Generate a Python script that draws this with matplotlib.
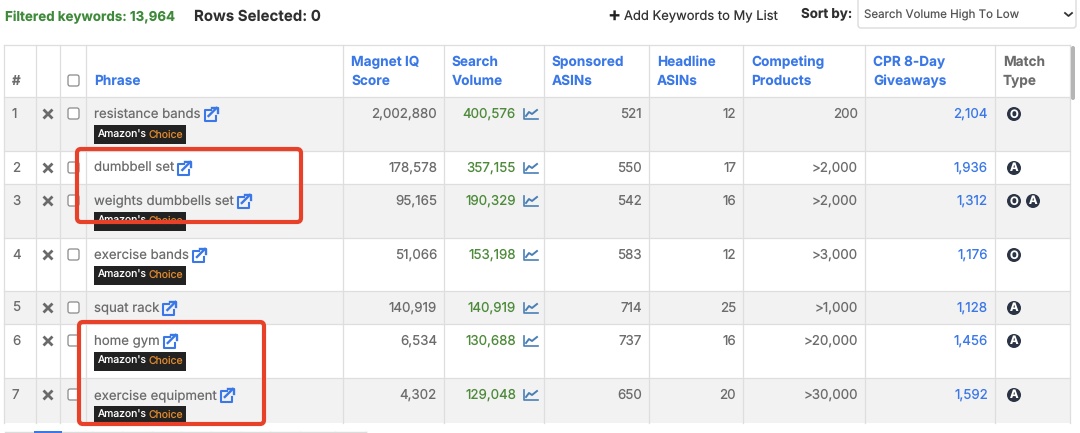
import matplotlib
matplotlib.use("Agg")
import matplotlib.pyplot as plt
from matplotlib.patches import Rectangle, FancyBboxPatch, Circle

plt.rcParams['font.family'] = ['Inter', 'DejaVu Sans']
plt.rcParams['text.hinting'] = 'no_hinting'
plt.rcParams['text.hinting_factor'] = 1

# table values
phrases = ["resistance bands", "dumbbell set", "weights dumbbells set", "exercise bands",
           "squat rack", "home gym", "exercise equipment"]
choice = [True, False, True, True, False, True, True]
magnet_iq = ["2,002,880", "178,578", "95,165", "51,066", "140,919", "6,534", "4,302"]
search_volume = ["400,576", "357,155", "190,329", "153,198", "140,919", "130,688", "129,048"]
sponsored = ["521", "550", "542", "583", "714", "737", "650"]
headline = ["12", "17", "16", "12", "25", "16", "20"]
competing = ["200", ">2,000", ">2,000", ">3,000", ">1,000", ">20,000", ">30,000"]
giveaways = ["2,104", "1,936", "1,312", "1,176", "1,128", "1,456", "1,592"]
match_type = [["O"], ["A"], ["O", "A"], ["O"], ["A"], ["A"], ["A"]]
headers = [("Magnet IQ", "Score"), ("Search", "Volume"), ("Sponsored", "ASINs"), ("Headline", "ASINs"),
           ("Competing", "Products"), ("CPR 8-Day", "Giveaways")]

# layout in pixels
col_x = [4, 36, 60, 86, 343, 444, 544, 649, 743, 865, 995, 1070]
row_y = [97, 151, 184, 238, 291, 324, 378, 423]
BLUE = "#3b78e7"
GREY = "#6c6c6c"
LINE = "#dedede"
GREEN = "#4d8a3a"
DARK = "#2b3445"

fig = plt.figure(figsize=(10.8, 4.33), dpi=100)
ax = fig.add_axes([0, 0, 1, 1])
ax.set_xlim(0, 1080)
ax.set_ylim(433, 0)
ax.axis("off")


def ext_icon(x, y):
    # little "open in new tab" icon
    ax.plot([x + 6, x, x, x + 11, x + 11], [y - 4, y - 4, y + 7, y + 7, y + 2], color=BLUE, lw=1.5, zorder=3)
    ax.plot([x + 4, x + 12], [y + 2, y - 6], color=BLUE, lw=1.7, zorder=3)
    ax.plot([x + 7, x + 13, x + 13], [y - 6, y - 6, y - 1], color=BLUE, lw=1.7, zorder=3)


def trend_icon(x, y):
    ax.plot([x, x, x + 14], [y - 5, y + 5, y + 5], color="#4a7fb5", lw=1.2, zorder=3)
    ax.plot([x + 2, x + 5, x + 8, x + 13], [y + 2, y - 2, y, y - 4], color="#4a7fb5", lw=1.4, zorder=3)


def checkbox(x, y):
    ax.add_patch(FancyBboxPatch((x + 1.5, y + 1.5), 8, 8, boxstyle="round,pad=1.5,rounding_size=2",
                                fc="white", ec="#8a8a8a", lw=0.9, zorder=3))


def badge(x, y, letter):
    ax.add_patch(Circle((x, y), 7, fc=DARK, ec="none", zorder=3))
    ax.text(x, y + 0.3, letter, color="white", fontsize=8.2, fontweight="bold", ha="center", va="center", zorder=4)


def xmark(x, y):
    ax.plot([x - 3.5, x + 3.5], [y - 3.5, y + 3.5], color="#6a6a6a", lw=2, zorder=3)
    ax.plot([x - 3.5, x + 3.5], [y + 3.5, y - 3.5], color="#6a6a6a", lw=2, zorder=3)


# top bar
ax.text(5, 17, "Filtered keywords: 13,964", color="#3f8a3a", fontsize=9.6, fontweight="bold", va="center")
ax.text(194, 17, "Rows Selected: 0", color="#2f2f2f", fontsize=10.8, fontweight="bold", va="center")
ax.text(607, 15.5, "+", color="#222222", fontsize=14, fontweight="bold", va="center")
ax.text(624, 16, "Add Keywords to My List", color="#333333", fontsize=9.35, va="center")
ax.text(801, 14, "Sort by:", color="#2f2f2f", fontsize=9.6, fontweight="bold", va="center")
ax.add_patch(FancyBboxPatch((858, -3), 218, 31, boxstyle="round,pad=0,rounding_size=3", fc="white", ec="#dcdcdc", lw=1))
ax.text(864, 15, "Search Volume High To Low", color="#555555", fontsize=8.3, va="center")
ax.plot([1065, 1068.5, 1072], [13, 16, 13], color="#333333", lw=1.3)

# striped rows
for i in range(7):
    if i % 2 == 0:
        ax.add_patch(Rectangle((col_x[0], row_y[i]), col_x[-1] - col_x[0], row_y[i + 1] - row_y[i],
                               fc="#f2f2f2", ec="none", zorder=0))

# grid lines
for x in col_x:
    ax.plot([x, x], [45, 423], color=LINE, lw=0.9, zorder=1)
ax.plot([col_x[0], col_x[-1]], [45, 45], color=LINE, lw=0.9, zorder=1)
for y in row_y[:-1]:
    ax.plot([col_x[0], col_x[-1]], [y, y], color=LINE, lw=0.9, zorder=1)

# header
ax.text(12, 81, "#", color=GREY, fontsize=9.6, fontweight="bold", va="center")
checkbox(68, 75)
ax.text(94, 81, "Phrase", color=BLUE, fontsize=9.8, fontweight="bold", va="center")
for i, (top, bottom) in enumerate(headers):
    x = col_x[4 + i] + 8
    ax.text(x, 62, top, color=BLUE, fontsize=9.8, fontweight="bold", va="center")
    ax.text(x, 81, bottom, color=BLUE, fontsize=9.8, fontweight="bold", va="center")
ax.text(1003, 62, "Match", color=GREY, fontsize=9.8, fontweight="bold", va="center")
ax.text(1003, 81, "Type", color=GREY, fontsize=9.8, fontweight="bold", va="center")

# rows
renderer = fig.canvas.get_renderer()
for i, phrase in enumerate(phrases):
    y = row_y[i] + 17
    ty = y + 0.5
    ax.text(12, ty, str(i + 1), color=GREY, fontsize=9.6, va="center")
    xmark(48, y)
    checkbox(68, y - 6)
    t = ax.text(94, ty, phrase, color=GREY, fontsize=9.5, va="center", zorder=3)
    bb = t.get_window_extent(renderer)
    ext_icon(bb.x1 + 4, y)
    if choice[i]:
        ax.add_patch(Rectangle((94, y + 11), 92, 18.5, fc="#222222", ec="none", zorder=3))
        ax.text(98, y + 20.5, "Amazon's", color="white", fontsize=7.5, va="center", zorder=4)
        ax.text(149, y + 20.5, "Choice", color="#e08a2e", fontsize=7.5, va="center", zorder=4)
    ax.text(437, ty, magnet_iq[i], color=GREY, fontsize=9.6, ha="right", va="center")
    ax.text(516, ty, search_volume[i], color=GREEN, fontsize=9.6, ha="right", va="center")
    trend_icon(524, y)
    ax.text(642, ty, sponsored[i], color=GREY, fontsize=9.6, ha="right", va="center")
    ax.text(736, ty, headline[i], color=GREY, fontsize=9.6, ha="right", va="center")
    ax.text(858, ty, competing[i], color=GREY, fontsize=9.6, ha="right", va="center")
    ax.text(988, ty, giveaways[i], color=BLUE, fontsize=9.6, ha="right", va="center")
    for j, letter in enumerate(match_type[i]):
        badge(1014 + j * 19, y, letter)

# scrollbar
ax.add_patch(FancyBboxPatch((1071, 46), 4, 54, boxstyle="round,pad=0,rounding_size=2", fc="#b5b5b5", ec="none"))

# pagination cut off at the bottom
ax.plot([5, 366], [431.5, 431.5], color="#dcdcdc", lw=1, zorder=1)
for x in [62, 92, 122, 152, 181, 211, 241, 270, 300, 335, 366]:
    ax.plot([x, x], [431.5, 433], color="#dcdcdc", lw=1, zorder=1)
ax.add_patch(Rectangle((34, 430.5), 28, 2.5, fc=BLUE, ec="none", zorder=2))

# red highlight boxes
for x0, y0, x1, y1 in [(77, 149, 301, 222), (79, 322, 264, 424)]:
    ax.add_patch(FancyBboxPatch((x0, y0), x1 - x0, y1 - y0, boxstyle="round,pad=0,rounding_size=4",
                                fc="none", ec="#e8412a", lw=3, zorder=6))

fig.savefig("out.png", dpi=100)
